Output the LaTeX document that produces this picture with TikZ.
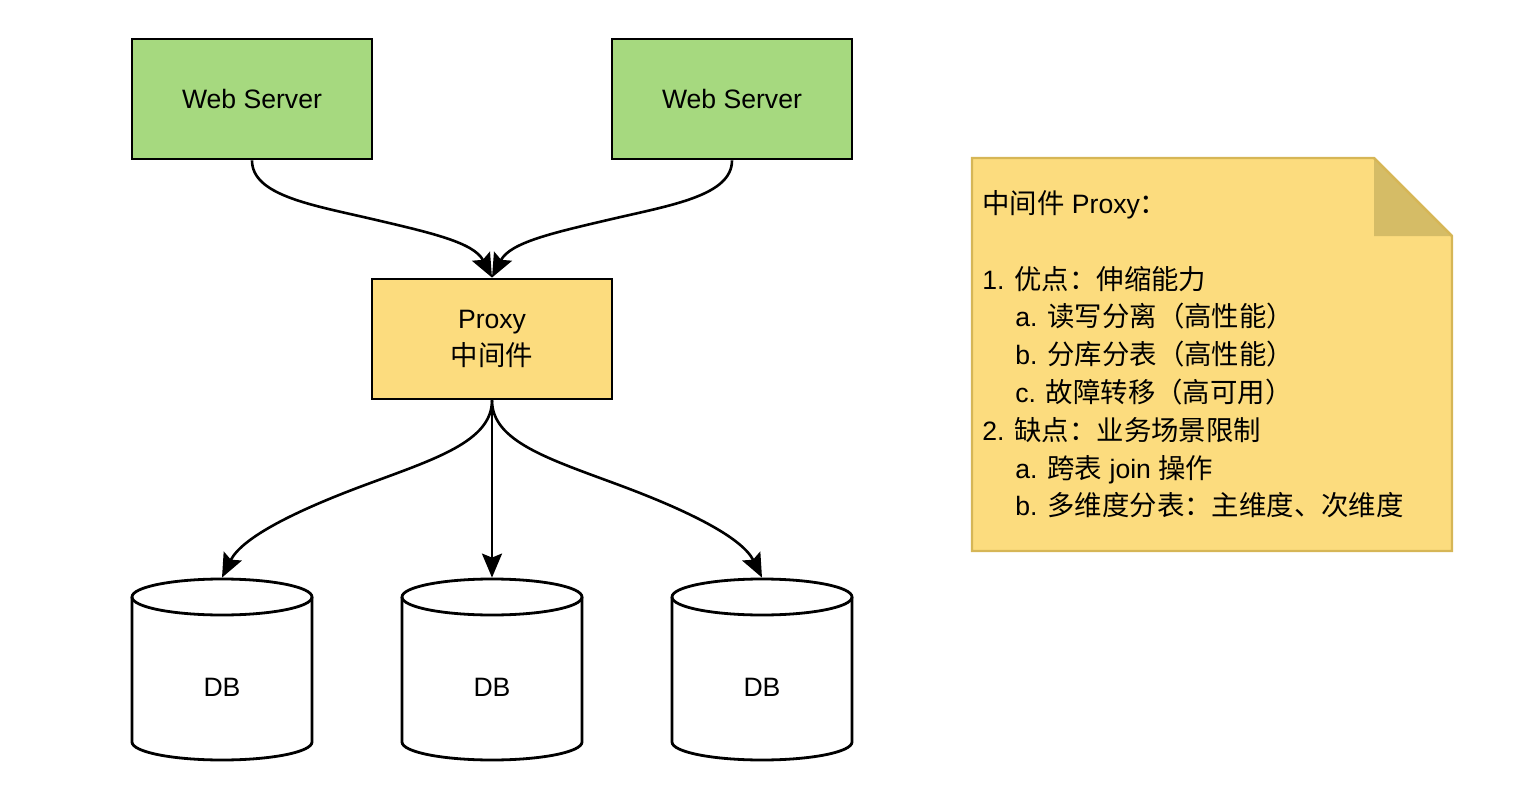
\documentclass[tikz,border=0pt]{standalone}
\usepackage{fontspec}
\setmainfont{Liberation Sans}
\newfontfamily\cjk[Scale=1.03]{Noto Sans CJK SC}
\usetikzlibrary{arrows.meta}

\definecolor{webgreen}{HTML}{A6D97F}
\definecolor{proxyyellow}{HTML}{FCDC7E}
\definecolor{noteborder}{HTML}{D6B656}
\definecolor{notefold}{HTML}{D5BC66}

\tikzset{
  server/.style={draw, line width=1.4pt, fill=webgreen, minimum width=120pt, minimum height=60pt, inner sep=0pt},
  proxybox/.style={draw, line width=1.4pt, fill=proxyyellow, minimum width=120pt, minimum height=60pt, inner sep=0pt, align=center},
  dbbox/.style={minimum width=90pt, minimum height=109pt, inner sep=0pt},
  dbline/.style={line width=1.4pt},
  link/.style={line width=1.3pt, -{Stealth[length=12pt, width=10pt, inset=2pt]}},
  notetext/.style={anchor=base west, inner sep=0pt}
}

\begin{document}
\begin{tikzpicture}[x=0.5pt, y=-0.5pt, font=\fontsize{13.3}{18.5}\selectfont]
            \useasboundingbox (0,0) rectangle (1516,792);

            % servers and proxy
            \node[server] (web1) at (252,99) {Web Server};
            \node[server] (web2) at (732,99) {Web Server};
            \node[proxybox] (proxy) at (492,339) {Proxy\\{\cjk 中间件}};

            % databases
            \foreach \i/\x in {1/222, 2/492, 3/762} {
                \draw[dbline] (\x-90,597) -- (\x-90,742) arc[start angle=180, end angle=360, x radius=45pt, y radius=9pt] -- (\x+90,597);
                \draw[dbline] (\x,597) ellipse[x radius=45pt, y radius=9pt];
                \node[dbbox] (db\i) at (\x,687) {DB};
            }

            \draw[link] (web1.south) .. controls +(0,35) and +(-60,-14) .. (372,219) .. controls +(60,14) and +(-18,-35) .. (proxy.north);
            \draw[link] (web2.south) .. controls +(0,35) and +(60,-14) .. (612,219) .. controls +(-60,14) and +(18,-35) .. (proxy.north);

            \draw[link] (proxy.south) .. controls +(0,41) and +(70,-26) .. (365,485) .. controls +(-70,26) and +(20,-40) .. (db1.north);
            \draw[link] (proxy.south) -- (db2.north);
            \draw[link] (proxy.south) .. controls +(0,41) and +(-70,-26) .. (619,485) .. controls +(70,26) and +(-20,-40) .. (db3.north);

            % note
            \filldraw[fill=proxyyellow, draw=noteborder, line width=1.2pt] (972,158) -- (1374,158) -- (1452,236) -- (1452,551) -- (972,551) -- cycle;
            \fill[notefold] (1374,158) -- (1452,236) -- (1374,236) -- cycle;
            \draw[noteborder, line width=1.2pt] (1374,158) -- (1452,236);

            \foreach \k/\x/\txt in {
                0/982/{{\cjk 中间件} Proxy{\cjk ：}},
                2/982/{1. {\cjk 优点：伸缩能力}},
                3/1015/{a. {\cjk 读写分离（高性能）}},
                4/1015/{b. {\cjk 分库分表（高性能）}},
                5/1015/{c. {\cjk 故障转移（高可用）}},
                6/982/{2. {\cjk 缺点：业务场景限制}},
                7/1015/{a. {\cjk 跨表} join {\cjk 操作}},
                8/1015/{b. {\cjk 多维度分表：主维度、次维度}}} {
                \node[notetext] (line\k) at (\x,213.5+37.8*\k) {\txt};
            }
        \end{tikzpicture}
\end{document}
